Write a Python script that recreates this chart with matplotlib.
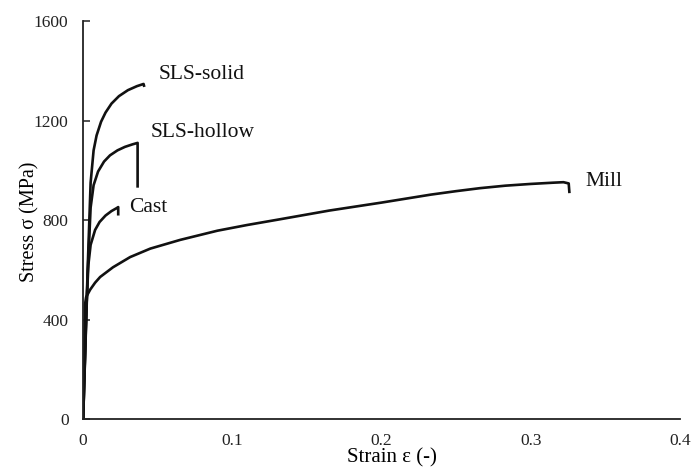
import matplotlib
matplotlib.use("Agg")
import matplotlib.pyplot as plt

plt.rcParams['font.family'] = ['Liberation Serif', 'DejaVu Serif']

mill_strain = [0, 0.0012, 0.002, 0.0047, 0.008, 0.0114, 0.02, 0.0315, 0.045, 0.065, 0.09, 0.11, 0.132,
               0.165, 0.2, 0.233, 0.25, 0.266, 0.283, 0.3, 0.315, 0.322, 0.3255, 0.326]
mill_stress = [0, 460, 490, 520, 548, 571, 610, 651, 685, 720, 757, 780, 803,
               838, 870, 902, 916, 928, 938, 945, 950, 952, 947, 908]

solid_strain = [0, 0.003, 0.005, 0.007, 0.009, 0.012, 0.015, 0.019, 0.024, 0.03, 0.036, 0.0405, 0.041]
solid_stress = [0, 600, 950, 1080, 1140, 1195, 1232, 1268, 1298, 1322, 1338, 1347, 1335]

hollow_strain = [0, 0.003, 0.005, 0.007, 0.01, 0.014, 0.018, 0.023, 0.028, 0.033, 0.0365, 0.0365]
hollow_stress = [0, 580, 850, 940, 995, 1035, 1060, 1080, 1094, 1104, 1110, 930]

cast_strain = [0, 0.002, 0.0035, 0.005, 0.008, 0.011, 0.015, 0.019, 0.0225, 0.0235, 0.0235]
cast_stress = [0, 420, 620, 700, 760, 792, 818, 836, 848, 852, 818]

labels = ["SLS-solid", "SLS-hollow", "Cast", "Mill"]
label_x = [0.0505, 0.045, 0.031, 0.3365]
label_y = [1385, 1150, 850, 955]

xticks = [0, 0.1, 0.2, 0.3, 0.4]
xtick_labels = ["0", "0.1", "0.2", "0.3", "0.4"]
yticks = [0, 400, 800, 1200, 1600]

fig = plt.figure(figsize=(6.93, 4.69), dpi=100)
ax = fig.add_axes([0.12, 0.1066, 0.861, 0.8486])

lc = '#111111'
for xs, ys in [(mill_strain, mill_stress), (solid_strain, solid_stress),
               (hollow_strain, hollow_stress), (cast_strain, cast_stress)]:
    ax.plot(xs, ys, color=lc, lw=1.9, solid_joinstyle='round', solid_capstyle='butt')

for t, x, y in zip(labels, label_x, label_y):
    ax.text(x, y, t, fontsize=15.5, va='center', ha='left', color='#111111')

ax.set_xlim(0, 0.4)
ax.set_ylim(0, 1600)
ax.set_xticks(xticks)
ax.set_xticklabels(xtick_labels)
ax.set_yticks(yticks)
ax.spines['top'].set_visible(False)
ax.spines['right'].set_visible(False)
for s in ['left', 'bottom']:
    ax.spines[s].set_color('#222222')
    ax.spines[s].set_linewidth(1.3)
ax.tick_params(axis='x', length=0, pad=10, labelsize=12.5, colors='#222222')
ax.tick_params(axis='y', length=5, width=1.1, direction='in', pad=10.5, labelsize=12.5, colors='#222222')
ax.set_xlabel("Strain ε (-)", fontsize=15, va='baseline')
ax.xaxis.set_label_coords(0.518, -0.108)
ax.set_ylabel("Stress σ (MPa)", fontsize=14.5, va='center')
ax.yaxis.set_label_coords(-0.09, 0.495)

fig.savefig("out.png", dpi=100)
